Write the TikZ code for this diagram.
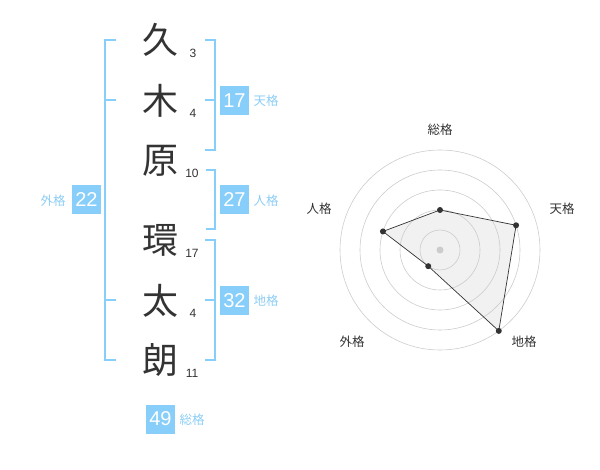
\documentclass[tikz,border=0pt]{standalone}
\usepackage{fontspec}
\setmainfont{Liberation Sans}
\newfontfamily\cjk{Noto Sans CJK JP}
\definecolor{kakublue}{RGB}{135,206,250}
\definecolor{kakutext}{RGB}{140,205,245}
\definecolor{inkgray}{RGB}{51,51,51}
\definecolor{ringgray}{RGB}{204,204,204}
\definecolor{areagray}{RGB}{241,241,241}

\begin{document}
\begin{tikzpicture}
  [x=1pt,y=-1pt,
   kanji/.style={font=\cjk\fontsize{36}{36}\selectfont,text=inkgray,inner sep=0pt},
   strokes/.style={font=\fontsize{12}{12}\selectfont,text=inkgray,inner sep=0pt},
   kakubox/.style={fill=kakublue,text=white,minimum size=29pt,inner sep=0pt,
     font=\fontsize{20}{20}\selectfont},
   kakulabel/.style={text=kakutext,font=\cjk\fontsize{12.5}{12.5}\selectfont,inner sep=0pt},
   axislabel/.style={text=inkgray,font=\cjk\fontsize{12.5}{12.5}\selectfont,inner sep=0pt},
   bracket/.style={draw=kakublue,line width=2pt},
   ring/.style={draw=ringgray,line width=0.6pt},
   dot/.style={circle,fill=inkgray,minimum size=6pt,inner sep=0pt}]
  \useasboundingbox (0,0) rectangle (600,470);

  % name
  \node (c1) at (160,40)  [kanji] {久};
  \node (c2) at (160,101) [kanji] {木};
  \node (c3) at (160,161) [kanji] {原};
  \node (c4) at (160,240) [kanji] {環};
  \node (c5) at (160,301) [kanji] {太};
  \node (c6) at (160,360) [kanji] {朗};

  \node (s1) at (193,53)  [strokes] {3};
  \node (s2) at (193,113) [strokes] {4};
  \node (s3) at (192,173) [strokes] {10};
  \node (s4) at (192,253) [strokes] {17};
  \node (s5) at (193,313) [strokes] {4};
  \node (s6) at (192,373) [strokes] {11};

  % brackets
  \draw[bracket] (116,40) -- (105,40) -- (105,360) -- (116,360);
  \foreach \y in {100,300}
    \draw[bracket] (105,\y) -- (116,\y);
  \draw[bracket] (205,40) -- (215,40) -- (215,150) -- (205,150);
  \draw[bracket] (206,170) -- (215,170) -- (215,229) -- (206,229);
  \draw[bracket] (205,240) -- (215,240) -- (215,360) -- (205,360);
  \foreach \y in {100,300}
    \draw[bracket] (215,\y) -- (205,\y);

  % kaku
  \node (ten)   at (234.5,100.5) [kakubox] {17};
  \node (jin)   at (234.5,200)   [kakubox] {27};
  \node (chi)   at (234.5,300.5) [kakubox] {32};
  \node (gai)   at (86.5,200)    [kakubox] {22};
  \node (sou)   at (160.5,419)   [kakubox] {49};
  \node (tenl)  at (266,101) [kakulabel] {天格};
  \node (jinl)  at (266,201) [kakulabel] {人格};
  \node (chil)  at (266,301) [kakulabel] {地格};
  \node (gail)  at (53,201)  [kakulabel] {外格};
  \node (soul)  at (192,420) [kakulabel] {総格};

  % radar
  \node (rsou) at (440,130) [axislabel] {総格};
  \node (rten) at (562,209) [axislabel] {天格};
  \node (rjin) at (319,209) [axislabel] {人格};
  \node (rgai) at (352,342) [axislabel] {外格};
  \node (rchi) at (524,342) [axislabel] {地格};
  \begin{scope}[shift={(440,250)},y=1pt]
    \coordinate (psou) at (90:40);
    \coordinate (pten) at (18:80);
    \coordinate (pchi) at (-54:100);
    \coordinate (pgai) at (-126:20);
    \coordinate (pjin) at (162:60);
    \fill[areagray] (psou) -- (pten) -- (pchi) -- (pgai) -- (pjin) -- cycle;
    \foreach \r in {20,40,...,100}
      \draw[ring] (0,0) circle (\r pt);
    \node (mid) at (0,0) [circle,fill=ringgray,minimum size=7pt,inner sep=0pt] {};
    \draw[inkgray,line width=0.7pt] (psou) -- (pten) -- (pchi) -- (pgai) -- (pjin) -- cycle;
    \foreach \p in {psou,pten,pchi,pgai,pjin}
      \node (\p dot) at (\p) [dot] {};
  \end{scope}
\end{tikzpicture}
\end{document}
